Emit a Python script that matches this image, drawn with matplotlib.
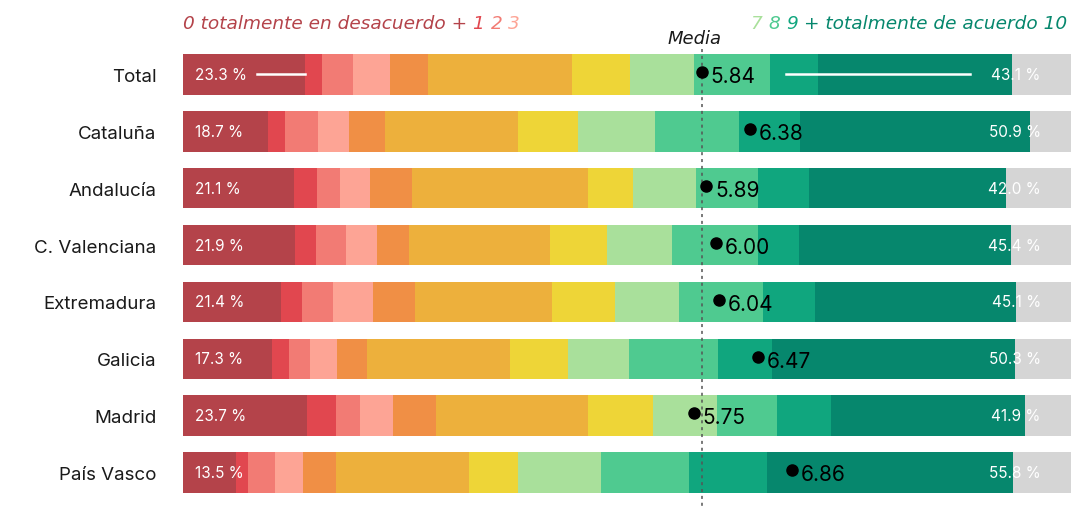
import numpy as np
import matplotlib.pyplot as plt

regiones = ['Total', 'Cataluña', 'Andalucía', 'C. Valenciana', 'Extremadura',
            'Galicia', 'Madrid', 'País Vasco']

# % de respuestas por puntuación (0 = totalmente en desacuerdo, 10 = totalmente de acuerdo)
p0 = [13.7, 9.6, 12.5, 12.6, 11.0, 10.0, 14.0, 6.0]
p1 = [2.0, 1.9, 2.6, 2.4, 2.4, 1.9, 3.2, 1.3]
p2 = [3.5, 3.7, 2.6, 3.3, 3.5, 2.4, 2.7, 3.1]
p3 = [4.1, 3.5, 3.4, 3.6, 4.5, 3.0, 3.8, 3.1]
p4 = [4.3, 4.1, 4.7, 3.6, 4.7, 3.4, 4.8, 3.7]
p5 = [16.2, 14.9, 19.8, 15.8, 15.5, 16.1, 17.1, 15.0]
p6 = [6.5, 6.8, 5.1, 6.5, 7.1, 6.6, 7.3, 5.5]
p7 = [7.3, 8.6, 7.1, 7.3, 7.1, 6.8, 7.2, 9.4]
p8 = [8.5, 9.5, 7.0, 9.6, 9.5, 10.0, 6.8, 9.9]
p9 = [5.4, 6.9, 5.7, 4.7, 5.9, 6.1, 6.1, 8.8]
p10 = [21.9, 25.9, 22.2, 23.8, 22.6, 27.4, 21.8, 27.7]
nsnc = [6.6, 4.6, 7.3, 6.8, 6.2, 6.3, 5.2, 6.5]

desacuerdo = [23.3, 18.7, 21.1, 21.9, 21.4, 17.3, 23.7, 13.5]
acuerdo = [43.1, 50.9, 42.0, 45.4, 45.1, 50.3, 41.9, 55.8]
media = [5.84, 6.38, 5.89, 6.00, 6.04, 6.47, 5.75, 6.86]

colores = ['#b4434a', '#e1474f', '#f27b74', '#fda495', '#f08f45', '#edb03c',
           '#eed537', '#a9e09b', '#4fca90', '#10a67e', '#06876d', '#d5d5d5']

series = [p0, p1, p2, p3, p4, p5, p6, p7, p8, p9, p10, nsnc]

plt.rcParams['font.family'] = ['Inter', 'DejaVu Sans']

fig = plt.figure(figsize=(10.73, 5.10), dpi=100)
ax = fig.add_axes([183/1073, 8/510, 888/1073, 455/510])

y = np.arange(len(regiones))
izq = np.zeros(len(regiones))
for s, c in zip(series, colores):
    ax.barh(y, s, left=izq, height=0.71, color=c, linewidth=0)
    izq += np.array(s)

ax.set_xlim(0, 100)
ax.set_ylim(7.5, -0.5)
ax.set_yticks(y)
ax.set_yticklabels(regiones, fontsize=13.5, color='#1a1a1a')
ax.tick_params(axis='y', length=0, pad=19)
ax.set_xticks([])
for sp in ax.spines.values():
    sp.set_visible(False)

# linea de la media total
xm = media[0] * 10
ax.plot([xm, xm], [-0.45, 7.7], ls=(0, (2, 2.5)), color='#555555', lw=1.1,
        clip_on=False, zorder=3)
ax.text(xm - 0.8, -0.49, 'Media', ha='center', va='bottom', fontsize=13,
        style='italic', family='DejaVu Sans', color='#1a1a1a')

for i in range(len(regiones)):
    ax.text(1.3, i, f'{desacuerdo[i]:.1f} %', color='white', fontsize=11,
            va='center', ha='left')
    ax.text(96.6, i, f'{acuerdo[i]:.1f} %', color='white', fontsize=11,
            va='center', ha='right')
    ax.plot(media[i] * 10, i - 0.04, 'o', color='black', ms=8, zorder=4)
    ax.text(media[i] * 10 + 1.0, i + 0.03, f'{media[i]:.2f}', fontsize=15,
            va='center', ha='left', color='black', zorder=4)

# lineas blancas de la fila Total
ax.plot([8.3, p0[0]], [0, 0], color='white', lw=1.8)
ax.plot([media[0] * 10 + 9.5, 88.6], [0, 0], color='white', lw=1.8)

# cabeceras
hk = dict(fontsize=13.3, style='italic', family='DejaVu Sans', va='bottom',
          annotation_clip=False)
t = ax.annotate('0 totalmente en desacuerdo + ', xy=(0, -0.74),
                xycoords='data', ha='left', color=colores[0], **hk)
for txt, c in [('1 ', colores[1]), ('2 ', colores[2]), ('3', colores[3])]:
    t = ax.annotate(txt, xy=(1, 0), xycoords=t, ha='left', color=c, **hk)

t = ax.annotate('+ totalmente de acuerdo 10', xy=(99.6, -0.74),
                xycoords='data', ha='right', color=colores[10], **hk)
for txt, c in [('9 ', colores[9]), ('8 ', colores[8]), ('7 ', colores[7])]:
    t = ax.annotate(txt, xy=(0, 0), xycoords=t, ha='right', color=c, **hk)

fig.savefig('out.png', dpi=100)
